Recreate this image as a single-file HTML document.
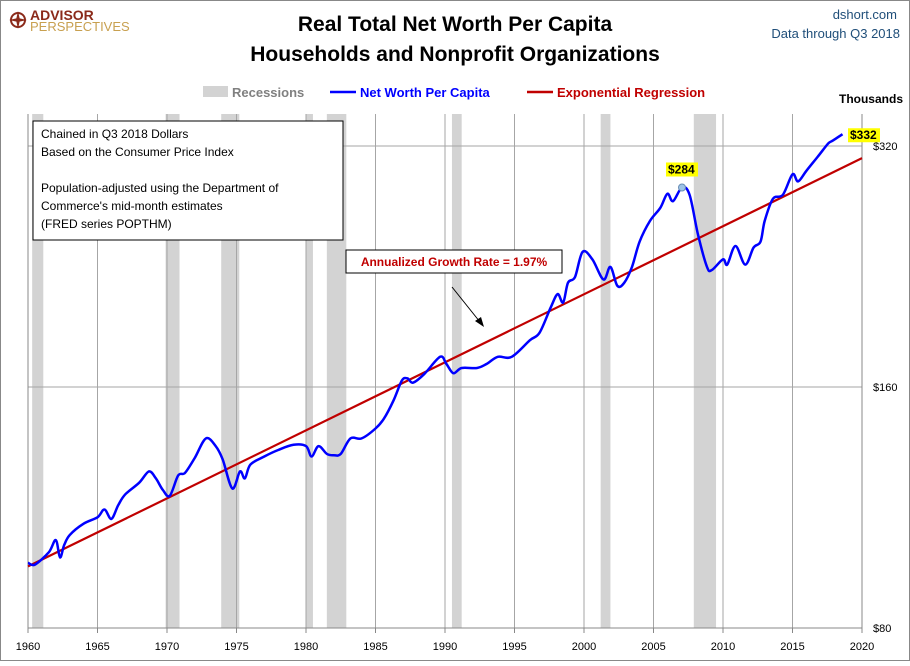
<!DOCTYPE html>
<html><head><meta charset="utf-8"><style>
body{margin:0;background:#fff;font-family:"Liberation Sans",sans-serif}
svg text{font-family:"Liberation Sans",sans-serif}
</style></head><body>
<svg id="chart" width="910" height="661" viewBox="0 0 910 661" xmlns="http://www.w3.org/2000/svg">
<rect x="0.5" y="0.5" width="909" height="660" fill="#fff" stroke="#888"/>
<g>
<circle cx="18" cy="20" r="7" fill="none" stroke="#8b2a1a" stroke-width="2"/>
<path d="M18 11 L20 20 L18 29 L16 20Z M9 20 L18 18 L27 20 L18 22Z" fill="#8b2a1a"/>
<text x="30" y="20" font-size="14" font-weight="bold" fill="#8b2a1a">ADVISOR</text>
<text x="30" y="31" font-size="13" fill="#c8a050">PERSPECTIVES</text>
</g>
<text x="455" y="31" text-anchor="middle" font-size="21" font-weight="bold" fill="#000">Real Total Net Worth Per Capita</text>
<text x="455" y="61" text-anchor="middle" font-size="21" font-weight="bold" fill="#000">Households and Nonprofit Organizations</text>
<text x="897" y="19" text-anchor="end" font-size="13" fill="#1f4e79">dshort.com</text>
<text x="900" y="38" text-anchor="end" font-size="13" fill="#1f4e79">Data through Q3 2018</text>
<g>
<rect x="203" y="86" width="25" height="11" fill="#d3d3d3"/>
<text x="232" y="97" font-size="13" font-weight="bold" fill="#808080">Recessions</text>
<line x1="330" y1="92" x2="356" y2="92" stroke="#0000ff" stroke-width="2.5"/>
<text x="360" y="97" font-size="13" font-weight="bold" fill="#0000ff">Net Worth Per Capita</text>
<line x1="527" y1="92" x2="553" y2="92" stroke="#c00000" stroke-width="2.5"/>
<text x="557" y="97" font-size="13" font-weight="bold" fill="#c00000">Exponential Regression</text>
</g>
<text x="903" y="103" text-anchor="end" font-size="12" font-weight="bold" fill="#000">Thousands</text>
<g id="recs"></g><g id="grid"></g><g id="axes"></g>
<g id="series"></g>
<g>
<rect x="33" y="121" width="310" height="119" fill="#fff" stroke="#000" stroke-width="1"/>
<text font-size="12" fill="#000"><tspan x="41" y="138">Chained in Q3 2018  Dollars</tspan><tspan x="41" y="156">Based on the Consumer Price Index</tspan><tspan x="41" y="192">Population-adjusted using the Department of</tspan><tspan x="41" y="210">Commerce's mid-month estimates</tspan><tspan x="41" y="228">(FRED series POPTHM)</tspan></text>
</g>
<g>
<rect x="346" y="250" width="216" height="23" fill="#fff" stroke="#000" stroke-width="1"/>
<text x="454" y="266" text-anchor="middle" font-size="12" font-weight="bold" fill="#c00000">Annualized Growth Rate = 1.97%</text>
<line x1="452" y1="287" x2="480" y2="322" stroke="#000" stroke-width="1"/>
<path d="M484 327 L475 321 L481 317Z" fill="#000"/>
</g>
</svg>
<script>
const recStart=[1960.3,1969.9,1973.9,1980.0,1981.5,1990.5,2001.2,2007.9];
const recEnd=[1961.1,1970.9,1975.2,1980.5,1982.9,1991.2,2001.9,2009.5];
const years=[1960,1960.5,1961.5,1962,1962.3,1962.6,1963,1964,1965,1965.5,1966,1966.5,1967,1968,1968.7,1969.2,1969.7,1970.2,1970.8,1971.3,1972,1972.8,1973.5,1974,1974.7,1975.25,1975.6,1976,1977,1978,1979.1,1980,1980.4,1980.9,1981.5,1982,1982.5,1983.2,1984,1985,1985.6,1986.3,1986.9,1987.3,1987.7,1988.5,1989.65,1990.1,1990.6,1991.2,1992.3,1993,1993.8,1994.8,1996.1,1996.8,1997.6,1998.1,1998.5,1998.85,1999.35,1999.9,2000.6,2001.4,2001.9,2002.4,2002.9,2003.45,2004,2004.75,2005.5,2006,2006.4,2007.05,2007.6,2008.2,2008.85,2009.2,2010,2010.3,2010.9,2011.6,2012.2,2012.7,2013,2013.6,2014.3,2015,2015.4,2016,2016.8,2017.55,2017.9,2018.6];
const netWorth=[96.5,96,99.5,103,98,101.5,104.5,108,110,112.5,109.5,114,117.5,121.5,125.5,123,119,117,124,125,130.5,138,135,130,119.5,125.5,123,128,131,133.5,135.5,135,131,135,132,131.5,132,138,138,142,146,154,163,164,162,166,174.5,171,166.5,169,169,171,174.5,174.5,183,187,201,209,204,216,219.5,236,231,218,226,214,216,226,243,258,268,279,273,284,278,248,226,224,231,227.5,240,227.5,239,243,258,275,278,295,289,298,310,322,325,331];
const regYears=[1960,2020];
const regValues=[95.5,309];
const yTicks=[80,160,320];
const yTickLabels=["$80","$160","$320"];
const xTicks=[1960,1965,1970,1975,1980,1985,1990,1995,2000,2005,2010,2015,2020];
const peakYear=2007.05, peakValue=284, peakLabel="$284", lastLabel="$332";

const L=28,R=862,T=114,B=628;
const X=y=>L+(y-1960)/60*(R-L);
const Y=v=>B-241*Math.log2(v/80);
const NS="http://www.w3.org/2000/svg";
function mk(tag,parent,attrs){const e=document.createElementNS(NS,tag);for(const k in attrs)e.setAttribute(k,attrs[k]);document.getElementById(parent).appendChild(e);return e;}
recStart.forEach((s,i)=>{const r=mk('rect','recs',{x:X(s),y:T,width:X(recEnd[i])-X(s),height:B-T,fill:'#d3d3d3'});

});
xTicks.forEach(t=>{if(t>1960){const l=mk('line','grid',{x1:X(t),x2:X(t),y1:T,y2:B,stroke:'#a6a6a6','stroke-width':1});

}
const tk=mk('line','axes',{x1:X(t),x2:X(t),y1:B,y2:B+5,stroke:'#888'});


const tx=mk('text','axes',{x:X(t),y:B+22,'text-anchor':'middle','font-size':11,fill:'#000'});tx.textContent=t;

});
yTicks.forEach((v,i)=>{if(v>80){const l=mk('line','grid',{x1:L,x2:R,y1:Y(v),y2:Y(v),stroke:'#a6a6a6','stroke-width':1});

}
const tx=mk('text','axes',{x:873,y:Y(v)+4,'font-size':11,fill:'#000'});tx.textContent=yTickLabels[i];

});
const ax=mk('path','axes',{d:`M${L} ${T} V${B} H${R} V${T}`,fill:'none',stroke:'#888'});


const rg=mk('line','series',{x1:X(regYears[0]),y1:Y(regValues[0]),x2:X(regYears[1]),y2:Y(regValues[1]),stroke:'#c00000','stroke-width':2.2});


const P=years.map((y,i)=>[X(y),Y(netWorth[i])]);
let d='M'+P[0][0].toFixed(1)+' '+P[0][1].toFixed(1);
for(let i=0;i<P.length-1;i++){const p0=P[Math.max(0,i-1)],p1=P[i],p2=P[i+1],p3=P[Math.min(P.length-1,i+2)];
const c1=[p1[0]+(p2[0]-p0[0])/6,p1[1]+(p2[1]-p0[1])/6],c2=[p2[0]-(p3[0]-p1[0])/6,p2[1]-(p3[1]-p1[1])/6];
d+=` C${c1[0].toFixed(1)} ${c1[1].toFixed(1)} ${c2[0].toFixed(1)} ${c2[1].toFixed(1)} ${p2[0].toFixed(1)} ${p2[1].toFixed(1)}`;}
const ln=mk('path','series',{d:d,fill:'none',stroke:'#0000ff','stroke-width':2.5,'stroke-linejoin':'round'});


const pk=mk('circle','series',{cx:X(peakYear),cy:Y(peakValue),r:3.5,fill:'#9dc3e6',stroke:'#6a8fb5'});


function lab(txt,x,y,name){const r=mk('rect','series',{x:x-2,y:y-11,width:32,height:14,fill:'#ffff00'});


const t=mk('text','series',{x:x,y:y,'font-size':12,'font-weight':'bold',fill:'#000'});t.textContent=txt;

}
lab(peakLabel,X(peakYear)-14,Y(peakValue)-14,'peak-label');
lab(lastLabel,850,Y(netWorth[netWorth.length-1])+5,'last-value-label');
</script>
</body></html>
